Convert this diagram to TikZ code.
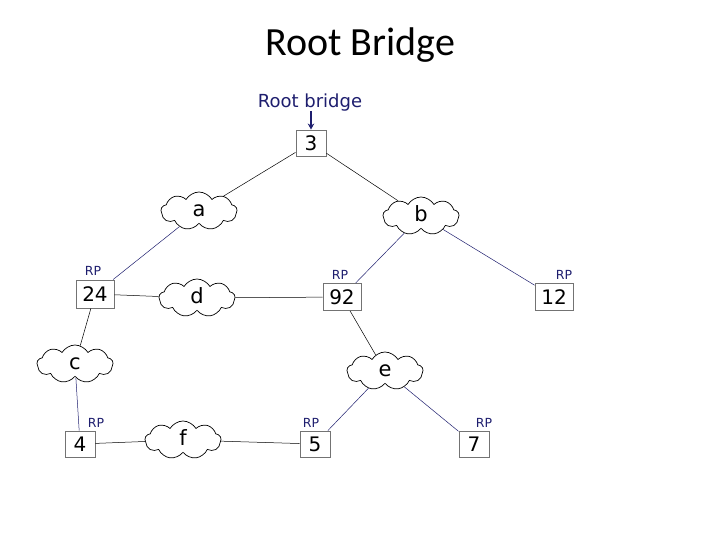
\documentclass[tikz,border=0pt]{standalone}
\usepackage{fontspec}
\setmainfont{Carlito}
\newfontfamily\vfont{DejaVu Sans}
\usetikzlibrary{shapes.symbols,arrows.meta}
\definecolor{navy}{RGB}{30,30,110}
\begin{document}
\begin{tikzpicture}[x=1pt,y=-1pt,
  bridge/.style={draw=black!55,line width=0.9pt,fill=white,inner sep=0pt,minimum width=30pt,minimum height=26pt,font=\vfont\fontsize{20}{20}\selectfont},
  lan/.style={cloud,cloud puffs=9,cloud puff arc=120,cloud ignores aspect,draw=black,line width=0.7pt,fill=white,minimum width=76pt,minimum height=38pt,inner sep=0pt,text height=11pt,text depth=0pt,font=\vfont\fontsize{21}{21}\selectfont},
  blk/.style={draw=black,line width=0.5pt},
  blu/.style={draw=navy,line width=0.5pt},
  rp/.style={text=navy,font=\vfont\fontsize{12.5}{12.5}\selectfont,inner sep=0pt}]
\useasboundingbox (0,0) rectangle (720,540);
\node[font=\fontsize{40}{40}\selectfont] (title) at (360,45) {Root Bridge};
\node[text=navy,font=\vfont\fontsize{18}{18}\selectfont] (rb) at (310,103) {Root bridge};
% bridges
\node[bridge] (b3) at (311,143) {3};
\node[bridge,minimum width=38pt,minimum height=28pt] (b24) at (95,294) {24};
\node[bridge,minimum width=38pt,minimum height=27pt] (b92) at (342,297) {92};
\node[bridge,minimum width=38pt,minimum height=27pt] (b12) at (554,297) {12};
\node[bridge] (b4) at (80,444) {4};
\node[bridge] (b5) at (315,444) {5};
\node[bridge] (b7) at (474,444) {7};
% clouds
\node[lan] (a) at (199,211) {a};
\node[lan] (b) at (421,216) {b};
\node[lan] (d) at (197,298) {d};
\node[lan] (c) at (75,364) {c};
\node[lan] (f) at (183,440) {f};
\node[lan] (e) at (385,371) {e};
% RP labels
\node[rp] (rp24) at (93,271) {RP};
\node[rp] (rp92) at (340,275) {RP};
\node[rp] (rp12) at (564,275) {RP};
\node[rp] (rp4) at (96,423) {RP};
\node[rp] (rp5) at (311,423) {RP};
\node[rp] (rp7) at (484,423) {RP};
% arrow
\draw[navy,line width=1.4pt,-{Stealth[length=6pt,width=6.5pt]}] (311,111) -- (b3.north);
% links
\draw[blk] (b3) -- (a);
\draw[blk] (b3) -- (b);
\draw[blu] (a) -- (b24);
\draw[blu] (b) -- (b92);
\draw[blu] (b) -- (b12);
\draw[blk] (b24) -- (d);
\draw[blk] (d) -- (b92);
\draw[blk] (b24) -- (c);
\draw[blu] (c) -- (b4);
\draw[blk] (b4) -- (f);
\draw[blk] (f) -- (b5);
\draw[blk] (b92) -- (e);
\draw[blu] (e) -- (b5);
\draw[blu] (e) -- (b7);
\end{tikzpicture}
\end{document}
